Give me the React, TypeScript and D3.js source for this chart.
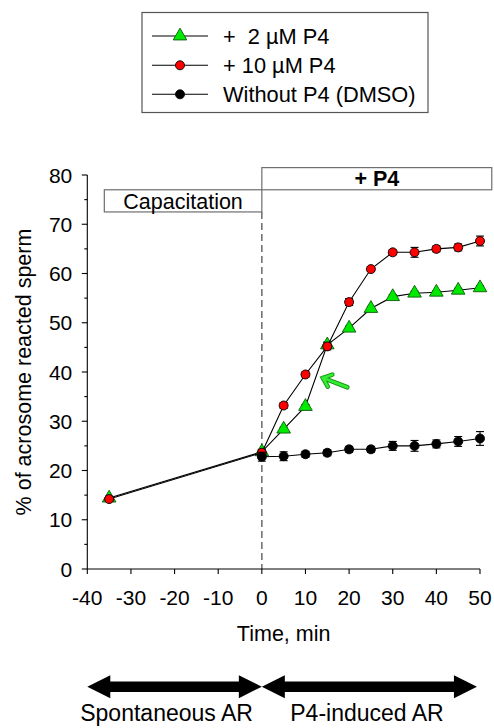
import { useEffect, useRef } from 'react';
import * as d3 from 'd3';

// time points after P4 addition (min)
const times = [0, 5, 10, 15, 20, 25, 30, 35, 40, 45, 50];
// capacitation start point shared by the P4 series
const startTime = -35;
const startGreen = 14.4;
const startRed = 14.2;

const green = [23.8, 28.4, 33.0, 45.5, 48.9, 52.9, 55.3, 56.0, 56.2, 56.6, 57.1];
const greenErr = [0.5, 0.4, 0.4, 0.6, 0.4, 0.4, 0.4, 0.4, 0.3, 0.4, 0.4];
const red = [23.6, 33.2, 39.5, 45.2, 54.2, 60.9, 64.3, 64.3, 65.0, 65.3, 66.6];
const redErr = [0.6, 0.6, 0.5, 0.7, 0.7, 0.5, 0.5, 1.0, 0.6, 0.7, 1.0];
const black = [22.8, 22.9, 23.3, 23.6, 24.3, 24.3, 25.0, 25.0, 25.4, 25.9, 26.5];
const blackErr = [0.9, 0.9, 0.6, 0.6, 0.6, 0.6, 0.9, 1.1, 0.8, 1.0, 1.4];

const xTicks = [-40, -30, -20, -10, 0, 10, 20, 30, 40, 50];
const yTicks = [0, 10, 20, 30, 40, 50, 60, 70, 80];
const yMinorTicks = [5, 15, 25, 35, 45, 55, 65, 75];

const legendLabels = ['+  2 µM P4', '+ 10 µM P4', 'Without P4 (DMSO)'];

const FONT = "Arial, 'Liberation Sans', sans-serif";

type Pt = { t: number; v: number; e: number };

export default function App() {
  const ref = useRef<SVGSVGElement | null>(null);

  useEffect(() => {
    if (!ref.current) return;
    const svg = d3.select(ref.current);
    svg.selectAll('*').remove();

    const x = d3.scaleLinear().domain([-40, 50]).range([87.3, 480]);
    const y = d3.scaleLinear().domain([0, 80]).range([569, 175]);

    // annotation boxes
    const boxes = [
      { x0: -36.1, x1: 0, y0: 72.5, y1: 77, label: 'Capacitation', bold: false },
      { x0: 0, x1: 52.7, y0: 77, y1: 81.5, label: '+ P4', bold: true }
    ];
    boxes.forEach(b => {
      svg.append('rect')
        .attr('x', x(b.x0)).attr('y', y(b.y1))
        .attr('width', x(b.x1) - x(b.x0)).attr('height', y(b.y0) - y(b.y1))
        .attr('fill', '#fff').attr('stroke', '#6e6e6e').attr('stroke-width', 1.2);
      svg.append('text')
        .attr('x', (x(b.x0) + x(b.x1)) / 2).attr('y', (y(b.y0) + y(b.y1)) / 2)
        .attr('dy', '0.36em').attr('text-anchor', 'middle')
        .style('font-family', FONT).style('font-size', '21.5px')
        .style('font-weight', b.bold ? 'bold' : 'normal')
        .text(b.label);
    });

    // dashed line at t = 0
    svg.append('line')
      .attr('x1', x(0)).attr('x2', x(0)).attr('y1', y(72.5)).attr('y2', y(0))
      .attr('stroke', '#6a6a6a').attr('stroke-width', 1.5).attr('stroke-dasharray', '7,4');

    // axes
    const ax = svg.append('g').attr('stroke', '#000').attr('stroke-width', 1.1);
    ax.append('line').attr('x1', x(-40)).attr('x2', x(-40)).attr('y1', y(0)).attr('y2', y(80));
    ax.append('line').attr('x1', x(-40)).attr('x2', x(50)).attr('y1', y(0)).attr('y2', y(0));
    yTicks.forEach(t => {
      ax.append('line').attr('x1', x(-40) - 5.5).attr('x2', x(-40)).attr('y1', y(t)).attr('y2', y(t));
    });
    yMinorTicks.forEach(t => {
      ax.append('line').attr('x1', x(-40) - 3).attr('x2', x(-40)).attr('y1', y(t)).attr('y2', y(t));
    });
    xTicks.forEach(t => {
      ax.append('line').attr('x1', x(t)).attr('x2', x(t)).attr('y1', y(0)).attr('y2', y(0) + 5);
    });

    svg.append('g').selectAll('text').data(yTicks).enter().append('text')
      .attr('x', x(-40) - 15).attr('y', d => y(d)).attr('dy', '0.36em')
      .attr('text-anchor', 'end')
      .style('font-family', FONT).style('font-size', '21px')
      .text(d => String(d));

    svg.append('g').selectAll('text').data(xTicks).enter().append('text')
      .attr('x', d => x(d)).attr('y', 605).attr('text-anchor', 'middle')
      .style('font-family', FONT).style('font-size', '21px')
      .text(d => String(d));

    svg.append('text')
      .attr('transform', `translate(31,${(y(0) + y(80)) / 2}) rotate(-90)`)
      .attr('text-anchor', 'middle')
      .style('font-family', FONT).style('font-size', '21.5px')
      .text('% of acrosome reacted sperm');

    svg.append('text')
      .attr('x', (x(-40) + x(50)) / 2).attr('y', 641).attr('text-anchor', 'middle')
      .style('font-family', FONT).style('font-size', '21.5px')
      .text('Time, min');

    // series
    const makePts = (vals: number[], errs: number[]): Pt[] =>
      times.map((t, i) => ({ t, v: vals[i], e: errs[i] }));
    const greenPts: Pt[] = [{ t: startTime, v: startGreen, e: 0.4 }, ...makePts(green, greenErr)];
    const redPts: Pt[] = [{ t: startTime, v: startRed, e: 0.4 }, ...makePts(red, redErr)];
    const blackPts: Pt[] = makePts(black, blackErr);

    const line = d3.line<Pt>().x(d => x(d.t)).y(d => y(d.v));
    const tri = d3.symbol().type(d3.symbolTriangle).size(80);

    const drawSeries = (pts: Pt[], kind: string) => {
      const g = svg.append('g');
      g.append('path').attr('d', line(pts)).attr('fill', 'none')
        .attr('stroke', '#000').attr('stroke-width', 1.1);
      const eb = g.append('g').attr('stroke', '#000').attr('stroke-width', 1.1);
      pts.forEach(p => {
        eb.append('line').attr('x1', x(p.t)).attr('x2', x(p.t))
          .attr('y1', y(p.v - p.e)).attr('y2', y(p.v + p.e));
        [p.v - p.e, p.v + p.e].forEach(v => {
          eb.append('line').attr('x1', x(p.t) - 4).attr('x2', x(p.t) + 4)
            .attr('y1', y(v)).attr('y2', y(v));
        });
      });
      pts.forEach(p => {
        if (kind === 'tri') {
          g.append('path').attr('d', tri())
            .attr('transform', `translate(${x(p.t)},${y(p.v)})`)
            .attr('fill', '#00ea00').attr('stroke', '#0a5a0a').attr('stroke-width', 0.9);
        } else {
          g.append('circle').attr('cx', x(p.t)).attr('cy', y(p.v)).attr('r', 4.5)
            .attr('fill', kind === 'red' ? '#ff0000' : '#000')
            .attr('stroke', '#000').attr('stroke-width', 0.9);
        }
      });
    };
    drawSeries(greenPts, 'tri');
    drawSeries(redPts, 'red');
    drawSeries(blackPts, 'black');

    // green arrow pointing at the 10-15 min segment
    const tip = [x(14.0), y(38.8)];
    const tail = [x(19.6), y(36.9)];
    const ang = Math.atan2(tail[1] - tip[1], tail[0] - tip[0]);
    const hl = 10;
    const p1 = [tip[0] + hl * Math.cos(ang + 0.7), tip[1] + hl * Math.sin(ang + 0.7)];
    const p2 = [tip[0] + hl * Math.cos(ang - 0.7), tip[1] + hl * Math.sin(ang - 0.7)];
    const arrowPath = `M${tail[0]},${tail[1]}L${tip[0]},${tip[1]}M${p1[0]},${p1[1]}L${tip[0]},${tip[1]}L${p2[0]},${p2[1]}`;
    svg.append('path').attr('d', arrowPath).attr('fill', 'none')
      .attr('stroke', '#1a9a1a').attr('stroke-width', 4.6).attr('stroke-linecap', 'round');
    svg.append('path').attr('d', arrowPath).attr('fill', 'none')
      .attr('stroke', '#33ee33').attr('stroke-width', 2.6).attr('stroke-linecap', 'round');

    // legend
    const lg = svg.append('g');
    lg.append('rect').attr('x', 142).attr('y', 12.5).attr('width', 286).attr('height', 100)
      .attr('fill', '#fff').attr('stroke', '#555').attr('stroke-width', 1.2);
    const rowsY = [36, 65.3, 94.3];
    legendLabels.forEach((label, i) => {
      const ry = rowsY[i];
      lg.append('line').attr('x1', 152).attr('x2', 208).attr('y1', ry).attr('y2', ry)
        .attr('stroke', '#000').attr('stroke-width', 1.1);
      if (i === 0) {
        lg.append('path').attr('d', tri()).attr('transform', `translate(180,${ry})`)
          .attr('fill', '#00ea00').attr('stroke', '#0a5a0a').attr('stroke-width', 0.9);
      } else {
        lg.append('circle').attr('cx', 180).attr('cy', ry).attr('r', 4.5)
          .attr('fill', i === 1 ? '#ff0000' : '#000').attr('stroke', '#000').attr('stroke-width', 0.9);
      }
      lg.append('text').attr('x', 223).attr('y', ry).attr('dy', '0.36em')
        .attr('xml:space', 'preserve').style('white-space', 'pre')
        .style('font-family', FONT).style('font-size', '21.8px')
        .text(label);
    });

    // bottom double arrows
    const ay = 686.7;
    const drawDouble = (xa: number, xb: number) => {
      const sh = 5.3, hh = 11.5, hw = 23;
      const d = [
        [xa, ay], [xa + hw, ay - hh], [xa + hw, ay - sh], [xb - hw, ay - sh], [xb - hw, ay - hh],
        [xb, ay], [xb - hw, ay + hh], [xb - hw, ay + sh], [xa + hw, ay + sh], [xa + hw, ay + hh]
      ];
      svg.append('path').attr('d', 'M' + d.map(p => p.join(',')).join('L') + 'Z').attr('fill', '#000');
    };
    drawDouble(x(-40), x(0));
    drawDouble(x(0), x(49.3));

    svg.append('text').attr('x', (x(-40) + x(0)) / 2 - 8).attr('y', 721).attr('text-anchor', 'middle')
      .style('font-family', FONT).style('font-size', '23px').text('Spontaneous AR');
    svg.append('text').attr('x', 367).attr('y', 721).attr('text-anchor', 'middle')
      .style('font-family', FONT).style('font-size', '23px').text('P4-induced AR');
  }, []);

  return (
    <svg
      ref={ref}
      width={494}
      height={728}
      style={{ position: 'absolute', left: 0, top: 0, background: '#fff' }}
    />
  );
}
